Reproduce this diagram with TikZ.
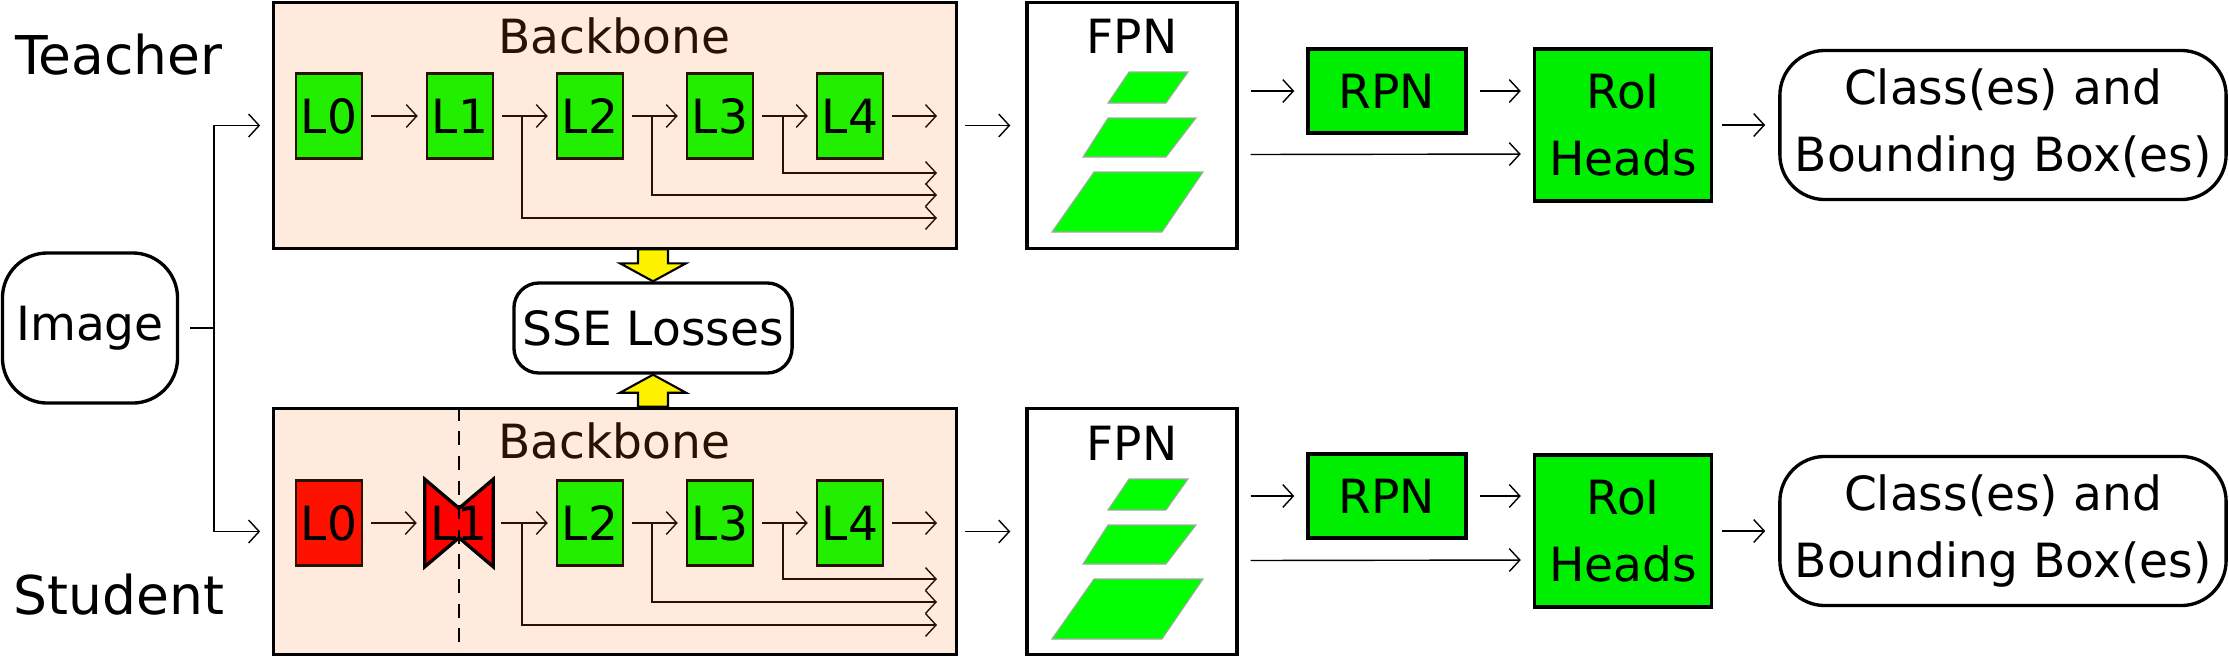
\documentclass[tikz,border=0pt]{standalone}
\usepackage{fontspec}
\setmainfont{DejaVu Sans}
\usetikzlibrary{arrows.meta}

\definecolor{bbfill}{RGB}{254,235,222}
\definecolor{brn}{RGB}{43,17,0}
\definecolor{lgreen}{RGB}{34,238,0}
\definecolor{hgreen}{RGB}{0,238,0}
\definecolor{pgreen}{RGB}{0,255,0}
\definecolor{lred}{RGB}{255,17,0}

\begin{document}
\begin{tikzpicture}[x=0.01cm,y=-0.01cm,
	every node/.style={font=\fontsize{13.4}{19}\selectfont, inner sep=0pt},
	bbox/.style={draw=black, fill=bbfill, line width=0.95pt, minimum width=6.82cm, minimum height=2.46cm},
	bbtitle/.style={anchor=base, text=brn},
	lbox/.style={draw=brn, fill=lgreen, line width=0.7pt, minimum width=0.66cm, minimum height=0.85cm},
	wbox/.style={draw=black, fill=white, line width=0.95pt, minimum width=2.1cm, minimum height=2.46cm},
	gbox/.style={draw=black, fill=hgreen, line width=0.95pt, align=center},
	rbox/.style={draw=black, line width=0.95pt, rounded corners=0.4cm, align=center},
	lbl/.style={anchor=base, font=\fontsize{15.2}{17}\selectfont},
	flow/.style={-{Straight Barb[length=3pt,width=6.5pt]}, line width=0.4pt},
	gap/.style={shorten <=0.08cm, shorten >=0.08cm},
	pgram/.style={fill=pgreen, draw=gray!70, line width=0.3pt},
	yarrow/.style={fill=yellow, draw=black, line width=0.6pt}]
	\useasboundingbox (0,0) rectangle (2229,657);

	% input
	\node[rbox, rounded corners=0.45cm, minimum width=1.75cm, minimum height=1.5cm] (img) at (90,328) {Image};
	\coordinate (split) at (214,328);
	\node[lbl] (teacher) at (119,74) {Teacher};
	\node[lbl] (student) at (119,614) {Student};

	% teacher
	\node[bbox] (tbb) at (615,125.5) {};
	\node[bbtitle] (tbbt) at (614,53) {Backbone};
	\node[lbox] (tl0) at (329,116) {L0};
	\node[lbox] (tl1) at (460,116) {L1};
	\node[lbox] (tl2) at (590,116) {L2};
	\node[lbox] (tl3) at (720,116) {L3};
	\node[lbox] (tl4) at (850,116) {L4};
	\coordinate (tout) at (937,116);
	\coordinate (tj1) at (522,116);
	\coordinate (tj2) at (652,116);
	\coordinate (tj3) at (783,116);
	\coordinate (te1) at (937,218);
	\coordinate (te2) at (937,195);
	\coordinate (te3) at (937,173);
	\node[wbox] (tfpn) at (1132,125.5) {};
	\node[anchor=base] (tfpnt) at (1132,53) {FPN};
	\node[gbox, minimum width=1.58cm, minimum height=0.84cm] (trpn) at (1387,91) {RPN};
	\node[gbox, minimum width=1.77cm, minimum height=1.52cm] (troi) at (1623,125) {RoI\\Heads};
	\node[rbox, rounded corners=0.45cm, minimum width=4.46cm, minimum height=1.49cm] (tcls) at (2003,125) {Class(es) and\\Bounding Box(es)};

	% student
	\node[bbox] (sbb) at (615,531.5) {};
	\node[bbtitle] (sbbt) at (614,458) {Backbone};
	\node[lbox, fill=lred] (sl0) at (329,523) {};
	\node[lbox, draw=none, fill=none] (sl1) at (459,523) {};
	\filldraw[fill=red, draw=black, line width=0.95pt] (sl1.north west) -- ([yshift=-0.29cm]sl1.north) -- (sl1.north east)
		-- (sl1.south east) -- ([yshift=0.29cm]sl1.south) -- (sl1.south west) -- cycle;
	\draw[dashed, line width=0.5pt, dash pattern=on 4pt off 3pt] (sl1 |- sbb.north) -- (sl1 |- sbb.south);
	\node (sl0t) at (sl0) {L0};
	\node (sl1t) at (sl1) {L1};
	\node[lbox] (sl2) at (590,523) {L2};
	\node[lbox] (sl3) at (720,523) {L3};
	\node[lbox] (sl4) at (850,523) {L4};
	\coordinate (sout) at (937,523);
	\coordinate (sj1) at (522,523);
	\coordinate (sj2) at (652,523);
	\coordinate (sj3) at (783,523);
	\coordinate (se1) at (937,625);
	\coordinate (se2) at (937,602);
	\coordinate (se3) at (937,579);
	\node[wbox] (sfpn) at (1132,531.5) {};
	\node[anchor=base] (sfpnt) at (1132,460) {FPN};
	\node[gbox, minimum width=1.58cm, minimum height=0.84cm] (srpn) at (1387,496) {RPN};
	\node[gbox, minimum width=1.77cm, minimum height=1.52cm] (sroi) at (1623,531) {RoI\\Heads};
	\node[rbox, rounded corners=0.45cm, minimum width=4.46cm, minimum height=1.49cm] (scls) at (2003,531) {Class(es) and\\Bounding Box(es)};

	% losses
	\node[rbox, rounded corners=0.25cm, minimum width=2.78cm, minimum height=0.9cm] (sse) at (653,328) {SSE Losses};
	\draw[yarrow] (sse.north) -- ++(33,-18) -- ++(-18,0) -- ++(0,-14) -- ++(-30,0) -- ++(0,14) -- ++(-18,0) -- cycle;
	\draw[yarrow] (sse.south) -- ++(33,18) -- ++(-18,0) -- ++(0,14) -- ++(-30,0) -- ++(0,-14) -- ++(-18,0) -- cycle;

	% fpn levels
	\foreach \dy in {0,407} {
		\filldraw[pgram] (1129,72+\dy) -- (1188,72+\dy) -- (1166,103+\dy) -- (1108,103+\dy) -- cycle;
		\filldraw[pgram] (1108,118+\dy) -- (1196,118+\dy) -- (1166,157+\dy) -- (1083,157+\dy) -- cycle;
		\filldraw[pgram] (1094,172+\dy) -- (1203,172+\dy) -- (1162,232+\dy) -- (1052,232+\dy) -- cycle;
	}

	% connectors
	\draw[line width=0.4pt, shorten <=0.11cm] (img) -- (split);
	\draw[flow, shorten >=0.12cm] (split) |- (tbb);
	\draw[flow, shorten >=0.12cm] (split) |- (sbb);

	\draw[flow, gap, draw=brn] (tl0) -- (tl1);
	\draw[flow, gap, draw=brn] (tl1) -- (tl2);
	\draw[flow, gap, draw=brn] (tl2) -- (tl3);
	\draw[flow, gap, draw=brn] (tl3) -- (tl4);
	\draw[flow, shorten <=0.08cm, draw=brn] (tl4) -- (tout);
	\draw[flow, draw=brn] (tj1) |- (te1);
	\draw[flow, draw=brn] (tj2) |- (te2);
	\draw[flow, draw=brn] (tj3) |- (te3);

	\draw[flow, gap, draw=brn] (sl0) -- (sl1);
	\draw[flow, gap, draw=brn] (sl1) -- (sl2);
	\draw[flow, gap, draw=brn] (sl2) -- (sl3);
	\draw[flow, gap, draw=brn] (sl3) -- (sl4);
	\draw[flow, shorten <=0.08cm, draw=brn] (sl4) -- (sout);
	\draw[flow, draw=brn] (sj1) |- (se1);
	\draw[flow, draw=brn] (sj2) |- (se2);
	\draw[flow, draw=brn] (sj3) |- (se3);

	\draw[flow, shorten <=0.07cm, shorten >=0.15cm] (tbb) -- (tfpn);
	\draw[flow, shorten <=0.12cm, shorten >=0.12cm] (tfpn.east |- trpn) -- (trpn);
	\draw[flow, shorten <=0.12cm, shorten >=0.12cm] (trpn) -- (troi.west |- trpn);
	\draw[flow, shorten <=0.12cm, shorten >=0.12cm] ([yshift=-0.29cm]tfpn.east) -- ([yshift=-0.29cm]troi.west);
	\draw[flow, shorten <=0.09cm, shorten >=0.13cm] (troi) -- (tcls);

	\draw[flow, shorten <=0.07cm, shorten >=0.15cm] (sbb) -- (sfpn);
	\draw[flow, shorten <=0.12cm, shorten >=0.12cm] (sfpn.east |- srpn) -- (srpn);
	\draw[flow, shorten <=0.12cm, shorten >=0.12cm] (srpn) -- (sroi.west |- srpn);
	\draw[flow, shorten <=0.12cm, shorten >=0.12cm] ([yshift=-0.29cm]sfpn.east) -- ([yshift=-0.29cm]sroi.west);
	\draw[flow, shorten <=0.09cm, shorten >=0.13cm] (sroi) -- (scls);
\end{tikzpicture}
\end{document}
